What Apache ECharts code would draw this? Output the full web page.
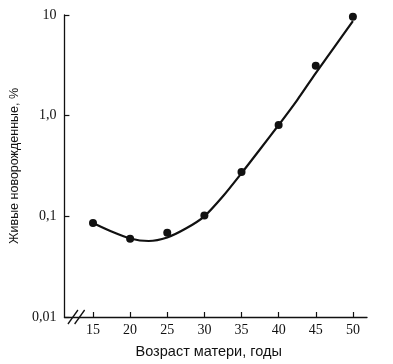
<!DOCTYPE html>
<html><head><meta charset="utf-8">
<script src="https://cdn.jsdelivr.net/npm/echarts@6/dist/echarts.min.js"></script>
<style>html,body{margin:0;padding:0;background:#fff}#c{width:393px;height:364px}</style>
</head><body><div id="c"></div>
<script>
// Data
const ages = [15, 20, 25, 30, 35, 40, 45, 50];
const liveBirthsPct = [0.086, 0.060, 0.0687, 0.102, 0.275, 0.807, 3.13, 9.6];
const curveAges = [15, 17.5, 20, 22.5, 25, 27.5, 30, 32.5, 35, 37.5, 40, 42.5, 45, 47.5, 50];
const curveValues = [0.0859, 0.0706, 0.0603, 0.0569, 0.0617, 0.0756, 0.100, 0.158, 0.268, 0.464, 0.807, 1.43, 2.65, 4.8, 8.7];
const xTicks = [15, 20, 25, 30, 35, 40, 45, 50];
const yTickLabels = {0.01: '0,01', 0.1: '0,1', 1: '1,0', 10: '10'};

const chart = echarts.init(document.getElementById('c'));
const serif = 'Liberation Serif';
const sans = 'Liberation Sans';
chart.setOption({
  animation: false,
  grid: {left: 63, right: 26, top: 15, bottom: 47},
  xAxis: {
    type: 'value', min: 11.15, max: 51.9,
    splitLine: {show: false},
    axisLine: {lineStyle: {color: '#111', width: 1.3}},
    axisTick: {show: true, inside: true, length: 5, customValues: xTicks, lineStyle: {color: '#111', width: 1.2}},
    axisLabel: {customValues: xTicks, color: '#111', fontFamily: serif, fontSize: 14, margin: 6},
    name: 'Возраст матери, годы', nameLocation: 'middle', nameGap: 27,
    nameTextStyle: {color: '#111', fontFamily: sans, fontSize: 14.5, padding: [0, 14, 0, 0]}
  },
  yAxis: {
    type: 'log', min: 0.01, max: 10, logBase: 10,
    splitLine: {show: false},
    axisLine: {lineStyle: {color: '#111', width: 1.3}},
    axisTick: {show: true, inside: true, length: 5, lineStyle: {color: '#111', width: 1.2}},
    minorTick: {show: false},
    axisLabel: {color: '#111', fontFamily: serif, fontSize: 14, margin: 8,
      formatter: v => yTickLabels[+v.toPrecision(3)] || ''},
    name: 'Живые новорожденные, %', nameLocation: 'middle', nameGap: 36,
    nameTextStyle: {color: '#111', fontFamily: sans, fontSize: 12.5}
  },
  series: [
    {type: 'line', data: curveAges.map((a, i) => [a, curveValues[i]]), smooth: 0.25,
     showSymbol: false, lineStyle: {color: '#111', width: 2.2}, z: 2},
    {type: 'scatter', data: ages.map((a, i) => [a, liveBirthsPct[i]]), symbolSize: 8,
     itemStyle: {color: '#111', opacity: 1}, z: 3}
  ]
});
// axis break marks "//"
const p0 = chart.convertToPixel({gridIndex: 0}, [12.3, 0.01]);
const p1 = chart.convertToPixel({gridIndex: 0}, [13.2, 0.01]);
chart.setOption({graphic: [
  {type: 'line', shape: {x1: p0[0] - 5, y1: p0[1] + 7, x2: p0[0] + 5, y2: p0[1] - 7}, style: {stroke: '#111', lineWidth: 1.3}},
  {type: 'line', shape: {x1: p1[0] - 5, y1: p1[1] + 7, x2: p1[0] + 5, y2: p1[1] - 7}, style: {stroke: '#111', lineWidth: 1.3}}
]});
</script></body></html>
